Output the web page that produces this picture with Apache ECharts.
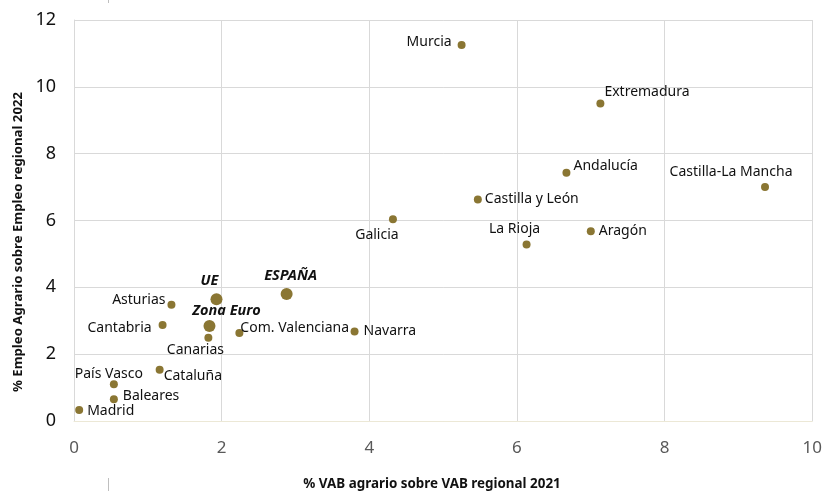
<!DOCTYPE html>
<html>
<head>
<meta charset="utf-8">
<script src="https://cdn.jsdelivr.net/npm/echarts@6/dist/echarts.min.js"></script>
<style>
html, body { margin: 0; padding: 0; background: #fff; }
#chart { width: 825px; height: 491px; }
</style>
</head>
<body>
<div id="chart"></div>
<script>
// regiones
var regionNames = ['Murcia', 'Extremadura', 'Andalucía', 'Castilla-La Mancha', 'Castilla y León',
	'La Rioja', 'Aragón', 'Galicia', 'Asturias', 'Cantabria', 'Com. Valenciana', 'Canarias',
	'Navarra', 'Cataluña', 'País Vasco', 'Baleares', 'Madrid'];
var regionVab = [5.25, 7.13, 6.67, 9.36, 5.47, 6.13, 7.0, 4.32, 1.32, 1.20, 2.24, 1.82, 3.80, 1.16, 0.54, 0.54, 0.07];
var regionEmpleo = [11.25, 9.5, 7.43, 7.0, 6.63, 5.28, 5.68, 6.04, 3.48, 2.87, 2.63, 2.49, 2.68, 1.53, 1.10, 0.65, 0.33];

// agregados
var aggNames = ['UE', 'ESPAÑA', 'Zona Euro'];
var aggVab = [1.93, 2.88, 1.835];
var aggEmpleo = [3.64, 3.80, 2.84];

var xTicks = [0, 2, 4, 6, 8, 10];
var yTicks = [0, 2, 4, 6, 8, 10, 12];

// colocación de etiquetas: [dx, dy, align]
var labelPlace = {
	'Murcia': [-10, -3, 'right'],
	'Extremadura': [4, -12, 'left'],
	'Andalucía': [7, -7, 'left'],
	'Castilla-La Mancha': [-34, -15, 'center'],
	'Castilla y León': [7, 0, 'left'],
	'La Rioja': [-12, -16, 'center'],
	'Aragón': [8, 0, 'left'],
	'Galicia': [-16, 16, 'center'],
	'Asturias': [-6, -5, 'right'],
	'Cantabria': [-11, 3, 'right'],
	'Com. Valenciana': [1, -5, 'left'],
	'Canarias': [-13, 12, 'center'],
	'Navarra': [9, 0, 'left'],
	'Cataluña': [4, 6, 'left'],
	'País Vasco': [-5, -10, 'center'],
	'Baleares': [9, -3, 'left'],
	'Madrid': [8, 1, 'left'],
	'UE': [-7, -18, 'center'],
	'ESPAÑA': [4, -18, 'center'],
	'Zona Euro': [17, -15, 'center']
};

var dotColor = '#8a7633';
var font = '"Noto Sans", sans-serif';

function buildData(names, xs, ys, bold) {
	var out = [];
	for (var i = 0; i < names.length; i++) {
		var p = labelPlace[names[i]];
		out.push({
			name: names[i],
			value: [xs[i], ys[i]],
			label: {
				show: true,
				position: 'inside',
				offset: [p[0], p[1]],
				align: p[2],
				verticalAlign: 'middle',
				formatter: '{b}',
				color: '#111',
				fontFamily: font,
				fontSize: bold ? 14.5 : 14,
				fontWeight: bold ? 'bold' : 'normal',
				fontStyle: bold ? 'italic' : 'normal'
			}
		});
	}
	return out;
}

var chart = echarts.init(document.getElementById('chart'));
var option = {
	animation: false,
	backgroundColor: '#fff',
	grid: { left: 74, right: 11, top: 20, bottom: 70 },
	xAxis: {
		type: 'value',
		min: xTicks[0],
		max: xTicks[xTicks.length - 1],
		interval: 2,
		axisLine: { show: true, lineStyle: { color: '#ece8d6' } },
		axisTick: { show: false },
		axisLabel: { color: '#595959', fontSize: 17, fontFamily: font, margin: 19 },
		splitLine: { show: true, lineStyle: { color: '#d9d9d9', width: 1 } }
	},
	yAxis: {
		type: 'value',
		min: yTicks[0],
		max: yTicks[yTicks.length - 1],
		interval: 2,
		axisLine: { show: true, lineStyle: { color: '#d9d9d9' } },
		axisTick: { show: false },
		axisLabel: { color: '#111', fontSize: 18, fontFamily: font, margin: 18 },
		splitLine: { show: true, lineStyle: { color: '#d9d9d9', width: 1 } }
	},
	graphic: [
		{
			type: 'text',
			x: 432, y: 484,
			style: {
				text: '% VAB agrario sobre VAB regional 2021',
				font: 'bold 13.4px "Noto Sans", sans-serif',
				fill: '#111',
				align: 'center',
				verticalAlign: 'middle'
			}
		},
		{
			type: 'text',
			x: 18, y: 242,
			rotation: Math.PI / 2,
			style: {
				text: '% Empleo Agrario sobre Empleo regional 2022',
				font: 'bold 13.2px "Noto Sans", sans-serif',
				fill: '#111',
				align: 'center',
				verticalAlign: 'middle'
			}
		},
		{
			type: 'line',
			shape: { x1: 108.5, y1: 478, x2: 108.5, y2: 491 },
			style: { stroke: '#bfbfbf', lineWidth: 1 }
		},
		{
			type: 'line',
			shape: { x1: 108.5, y1: 0, x2: 108.5, y2: 3 },
			style: { stroke: '#bfbfbf', lineWidth: 1 }
		}
	],
	series: [
		{
			name: 'Regiones',
			type: 'scatter',
			symbolSize: 8,
			itemStyle: { color: dotColor, opacity: 1 },
			data: buildData(regionNames, regionVab, regionEmpleo, false)
		},
		{
			name: 'Agregados',
			type: 'scatter',
			symbolSize: 12,
			itemStyle: { color: dotColor, opacity: 1 },
			data: buildData(aggNames, aggVab, aggEmpleo, true)
		}
	]
};
chart.setOption(option);
</script>
</body>
</html>
